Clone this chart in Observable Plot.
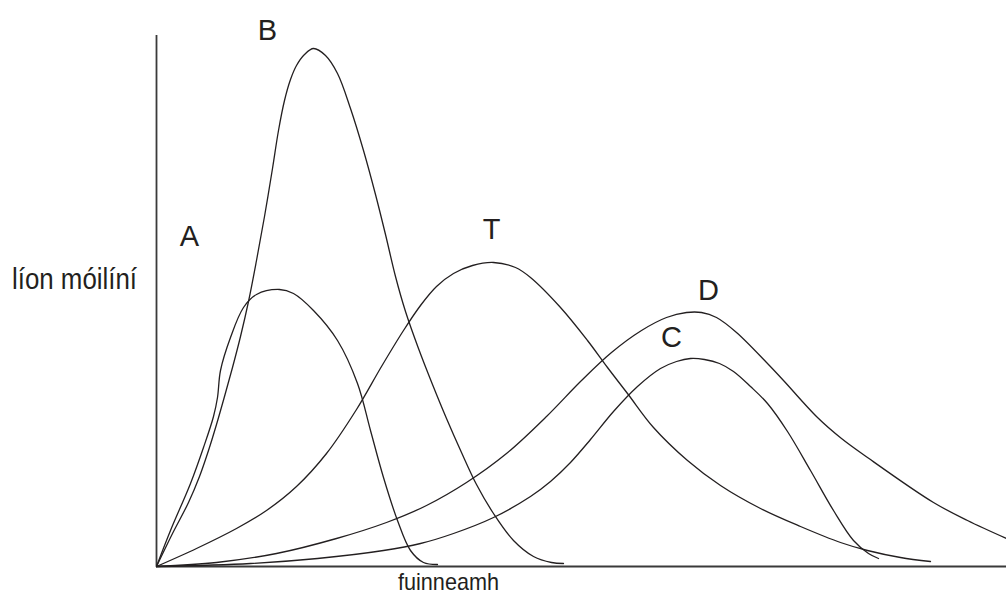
<!DOCTYPE html>
<html>
<head>
<meta charset="utf-8">
<script src="https://cdn.jsdelivr.net/npm/d3@7"></script>
<script src="https://cdn.jsdelivr.net/npm/@observablehq/plot@0.6"></script>
<style>
  body { margin: 0; background: #fff; }
  #chart svg { display: block; }
</style>
</head>
<body>
<div id="chart"></div>
<script>
// Curves (arbitrary units: energy on x, number of molecules on y)
const series = ["A", "B", "T", "D", "C"];

const energyA = [0, 14, 34, 47, 57, 61, 64, 74, 87, 100, 123, 137, 157, 181, 201, 214, 227, 241, 254, 267, 281];
const countA  = [0, 36, 83, 119, 150, 169, 196, 229, 259, 272, 277, 273, 256, 226, 183, 136, 89, 46, 16, 4, 2];

const energyB = [0, 16, 32, 43, 52, 60, 68, 76, 84, 92, 100, 108, 116, 122, 128, 134, 140, 148, 157, 169, 181, 194, 207, 219, 229, 239, 249, 262, 276, 290, 305, 320, 337, 357, 377, 395, 407];
const countB  = [0, 33, 64, 90, 116, 142, 170, 199, 230, 265, 306, 350, 398, 436, 466, 487, 501, 512, 518, 511, 493, 458, 416, 372, 332, 290, 255, 218, 182, 148, 114, 82, 53, 26, 10, 4, 3];

const energyT = [0, 40, 80, 110, 140, 170, 200, 225, 247, 264, 280, 297, 316, 337, 359, 374, 404, 431, 451, 471, 497, 531, 564, 604, 644, 684, 711, 744, 774];
const countT  = [0, 18, 38, 56, 80, 113, 157, 200, 236, 261, 280, 293, 301, 304, 299, 289, 259, 226, 199, 173, 139, 106, 81, 58, 40, 24, 16, 9, 5];

const energyD = [0, 60, 120, 180, 230, 270, 310, 350, 390, 425, 455, 485, 510, 530, 545, 560, 580, 611, 627, 661, 685, 711, 777, 811, 850];
const countD  = [0, 4, 13, 28, 44, 61, 84, 113, 150, 186, 214, 236, 249, 254, 254, 249, 234, 203, 186, 149, 128, 109, 64, 46, 28];

const energyC = [0, 94, 161, 227, 264, 297, 337, 374, 394, 414, 434, 457, 481, 504, 520, 534, 548, 563, 577, 594, 611, 631, 654, 677, 697, 712, 722];
const countC  = [0, 3, 8, 16, 23, 33, 49, 70, 85, 104, 127, 155, 180, 198, 205, 208, 207, 203, 195, 180, 163, 135, 96, 56, 26, 13, 8];

// Curve labels
const labelText = ["A", "B", "T", "D", "C"];
const labelX = [33, 111, 335, 552, 515];
const labelY = [330, 536, 337, 276, 229];

// Axis titles
const xTitle = "fuinneamh";
const yTitle = "líon móilíní";

const energies = [energyA, energyB, energyT, energyD, energyC];
const counts = [countA, countB, countT, countD, countC];
const rows = series.flatMap((s, i) => energies[i].map((e, j) => ({series: s, energy: e, count: counts[i][j]})));
const labels = labelText.map((t, i) => ({text: t, x: labelX[i], y: labelY[i]}));
const titles = [
  {text: xTitle, x: 292, y: -16},
  {text: yTitle, x: -82, y: 287}
];

const chart = Plot.plot({
  width: 1006,
  height: 596,
  marginLeft: 156,
  marginRight: 0,
  marginTop: 35,
  marginBottom: 30,
  x: {domain: [0, 850], axis: null},
  y: {domain: [0, 531], axis: null},
  style: {fontFamily: "'Liberation Sans', Arial, sans-serif", background: "#fff", overflow: "visible"},
  marks: [
    Plot.ruleX([0], {y1: 0, y2: 531, stroke: "#3a3a3a", strokeWidth: 1.8}),
    Plot.ruleY([0], {x1: 0, x2: 850, stroke: "#3a3a3a", strokeWidth: 1.8}),
    Plot.line(rows, {x: "energy", y: "count", z: "series", curve: "catmull-rom", stroke: "#231f20", strokeWidth: 1.3}),
    Plot.text(labels, {x: "x", y: "y", text: "text", fontSize: 29, fill: "#231f20"}),
    Plot.text(titles.slice(0, 1), {x: "x", y: "y", text: "text", fontSize: 24, fill: "#231f20"}),
    Plot.text(titles.slice(1), {x: "x", y: "y", text: "text", fontSize: 29, fill: "#231f20"})
  ]
});

// Match the narrow lettering of the axis titles
d3.select(chart).selectAll("text").each(function () {
  const t = this.textContent;
  if (t === yTitle) d3.select(this).attr("textLength", 125).attr("lengthAdjust", "spacingAndGlyphs");
  if (t === xTitle) d3.select(this).attr("textLength", 101).attr("lengthAdjust", "spacingAndGlyphs");
});

document.getElementById("chart").append(chart);
</script>
</body>
</html>
